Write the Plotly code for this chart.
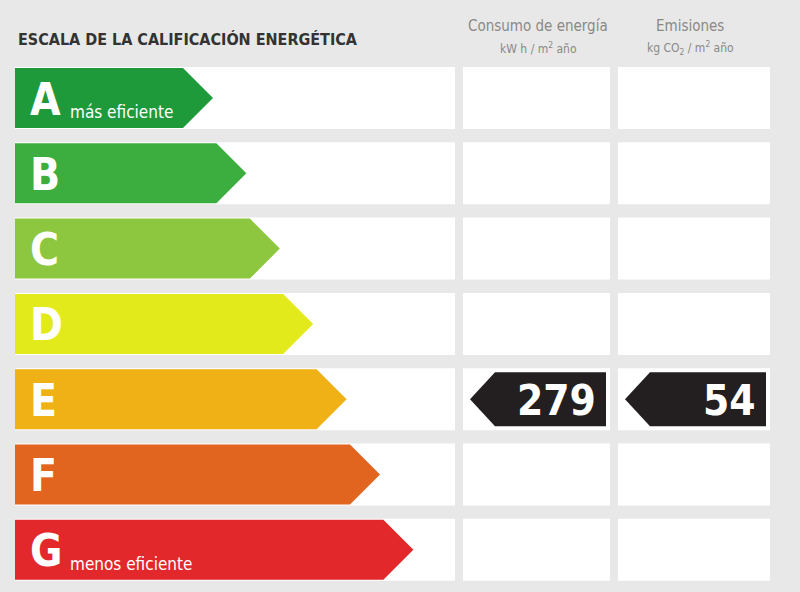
import plotly.graph_objects as go

ratings = ['A', 'B', 'C', 'D', 'E', 'F', 'G']
colors = ['#1e9a3b', '#3cae3f', '#8dc63f', '#e3ea1c', '#efb115', '#e1641f', '#e2282b']
notes = {'A': 'más eficiente', 'G': 'menos eficiente'}
consumo = {'E': 279}
emisiones = {'E': 54}

W, H = 800, 592
row_top = 67
row_step = 75.3
row_h = 62
FONT = 'DejaVu Sans Condensed, Liberation Sans Narrow, sans-serif'

fig = go.Figure()
shapes = []
annotations = []

# white cells
cols = [(15, 455), (463, 610), (618, 770)]
for i, r in enumerate(ratings):
    y0 = row_top + i * row_step
    for x0, x1 in cols:
        shapes.append(dict(type='rect', x0=x0, x1=x1, y0=y0, y1=y0 + row_h,
                           fillcolor='white', line=dict(width=0), layer='below'))

for i, r in enumerate(ratings):
    y0 = row_top + i * row_step + 1
    y1 = y0 + row_h - 2
    ym = (y0 + y1) / 2
    tip = 213 + i * 33.4
    body = tip - 30
    fig.add_trace(go.Scatter(
        x=[15, body, tip, body, 15, 15], y=[y0, y0, ym, y1, y1, y0],
        fill='toself', fillcolor=colors[i], line=dict(width=0), mode='lines',
        hoverinfo='skip', showlegend=False))
    annotations.append(dict(x=28, y=ym + 1, text=f'<b>{r}</b>', showarrow=False,
                            xanchor='left', yanchor='middle',
                            font=dict(family=FONT, size=44, color='white')))
    if r in notes:
        annotations.append(dict(x=68, y=ym + 14, text=notes[r], showarrow=False,
                                xanchor='left', yanchor='middle',
                                font=dict(family=FONT, size=17, color='white')))

    for vals, (x0, x1) in [(consumo, cols[1]), (emisiones, cols[2])]:
        if r in vals:
            a0, a1 = x0 + 7, x1 - 4
            ty0, ty1 = y0 + 3, y1 - 3
            fig.add_trace(go.Scatter(
                x=[a1, a0 + 25, a0, a0 + 25, a1, a1], y=[ty0, ty0, ym, ty1, ty1, ty0],
                fill='toself', fillcolor='#231f20', line=dict(width=0), mode='lines',
                hoverinfo='skip', showlegend=False))
            annotations.append(dict(x=a1 - 8, y=ym + 1, text=f'<b>{vals[r]}</b>', showarrow=False,
                                    xanchor='right', yanchor='middle',
                                    font=dict(family=FONT, size=42, color='white')))

annotations += [
    dict(x=16, y=39, text='<b>ESCALA DE LA CALIFICACIÓN ENERGÉTICA</b>', showarrow=False,
         xanchor='left', yanchor='middle', font=dict(family=FONT, size=16, color='#333333')),
    dict(x=538, y=26, text='Consumo de energía', showarrow=False, yanchor='middle',
         font=dict(family=FONT, size=15, color='#888888')),
    dict(x=538, y=48, text='kW h / m<sup>2</sup> año', showarrow=False, yanchor='middle',
         font=dict(family=FONT, size=12, color='#888888')),
    dict(x=690, y=26, text='Emisiones', showarrow=False, yanchor='middle',
         font=dict(family=FONT, size=15, color='#888888')),
    dict(x=690, y=48, text='kg CO<sub>2</sub> / m<sup>2</sup> año', showarrow=False, yanchor='middle',
         font=dict(family=FONT, size=12, color='#888888')),
]

fig.update_layout(
    width=W, height=H, margin=dict(l=0, r=0, t=0, b=0),
    paper_bgcolor='#e8e8e8', plot_bgcolor='#e8e8e8',
    xaxis=dict(range=[0, W], visible=False, fixedrange=True),
    yaxis=dict(range=[H, 0], visible=False, fixedrange=True),
    shapes=shapes, annotations=annotations,
)
fig.write_html('out.html', config={'displayModeBar': False},
               post_script="document.body.style.margin='0';")
